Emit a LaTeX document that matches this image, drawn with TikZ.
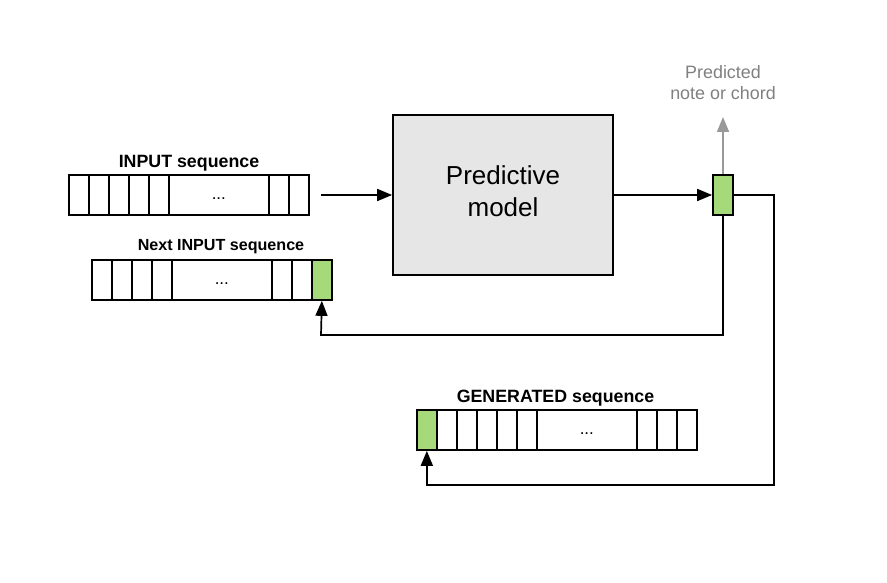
\documentclass[tikz,border=0pt]{standalone}
\usepackage{fontspec}
\setmainfont{Liberation Sans}
\usetikzlibrary{arrows.meta}
\definecolor{cellgreen}{HTML}{A6D97A}
\definecolor{modelgray}{HTML}{E6E6E6}
\definecolor{arrowgray}{HTML}{999999}
\definecolor{textgray}{HTML}{808080}
\begin{document}
\begin{tikzpicture}[x=1pt,y=-1pt,
  cell/.style={draw,line width=1.7pt,minimum width=20pt,minimum height=40pt,inner sep=0pt,anchor=west},
  bigcell/.style={cell,minimum width=100pt},
  greencell/.style={cell,fill=cellgreen},
  dots/.style={font=\fontsize{17}{20}\selectfont,yshift=-3.5pt},
  seqlabel/.style={font=\bfseries\fontsize{17.8}{20}\selectfont,inner sep=0pt},
  conn/.style={line width=1.7pt,-{Triangle[length=15pt,width=12pt]}},
]
\useasboundingbox (0,0) rectangle (887,583);

% INPUT sequence
\foreach \i/\x in {1/68,2/88,3/108,4/128,5/148}{\node[cell] (in\i) at (\x,195) {};}
\node[bigcell] (indots) at (168,195) {};
\node[dots] at (indots.center) {...};
\node[cell] (in7) at (268,195) {};
\node[cell] (in8) at (288,195) {};
\node[seqlabel] (inlabel) at (189,163) {INPUT sequence};
\coordinate (instart) at (321,195);

% Next INPUT sequence
\foreach \i/\x in {1/91,2/111,3/131,4/151}{\node[cell] (nx\i) at (\x,280) {};}
\node[bigcell] (nxdots) at (171,280) {};
\node[dots] at (nxdots.center) {...};
\node[cell] (nx6) at (271,280) {};
\node[cell] (nx7) at (291,280) {};
\node[greencell] (nxg) at (311,280) {};
\node[seqlabel,font=\bfseries\fontsize{16.1}{18}\selectfont] (nxlabel) at (221,247) {Next INPUT sequence};

% GENERATED sequence
\node[greencell] (gng) at (416,430) {};
\foreach \i/\x in {2/436,3/456,4/476,5/496,6/516}{\node[cell] (gn\i) at (\x,430) {};}
\node[bigcell] (gndots) at (536,430) {};
\node[dots] at (gndots.center) {...};
\foreach \i/\x in {8/636,9/656,10/676}{\node[cell] (gn\i) at (\x,430) {};}
\node[seqlabel] (gnlabel) at (555.5,398) {GENERATED sequence};

% Predictive model
\node[draw,line width=1.7pt,fill=modelgray,minimum width=220pt,minimum height=160pt] (model) at (503,195) {};
\node[align=center,font=\fontsize{26}{32}\selectfont,yshift=4pt] (modeltext) at (model.center) {Predictive\\model};

% Output cell
\node[draw,line width=1.7pt,fill=cellgreen,minimum width=20pt,minimum height=40pt,inner sep=0pt] (out) at (723,195) {};

% Predicted label
\node[text=textgray,align=center,font=\fontsize{17.9}{21}\selectfont] (pred) at (723,82.5) {Predicted\\note or chord};
\coordinate (predtip) at (723,117);

% Connectors
\draw[conn] (instart) -- (model.west);
\draw[conn] (model.east) -- (out.west);
\draw[conn,draw=arrowgray,fill=arrowgray] (out.north) -- (predtip);
\draw[conn] (out.south) |- (321,335) -- (nxg.south);
\draw[conn] (out.east) -| (774,485) -| (gng.south);
\end{tikzpicture}
\end{document}
